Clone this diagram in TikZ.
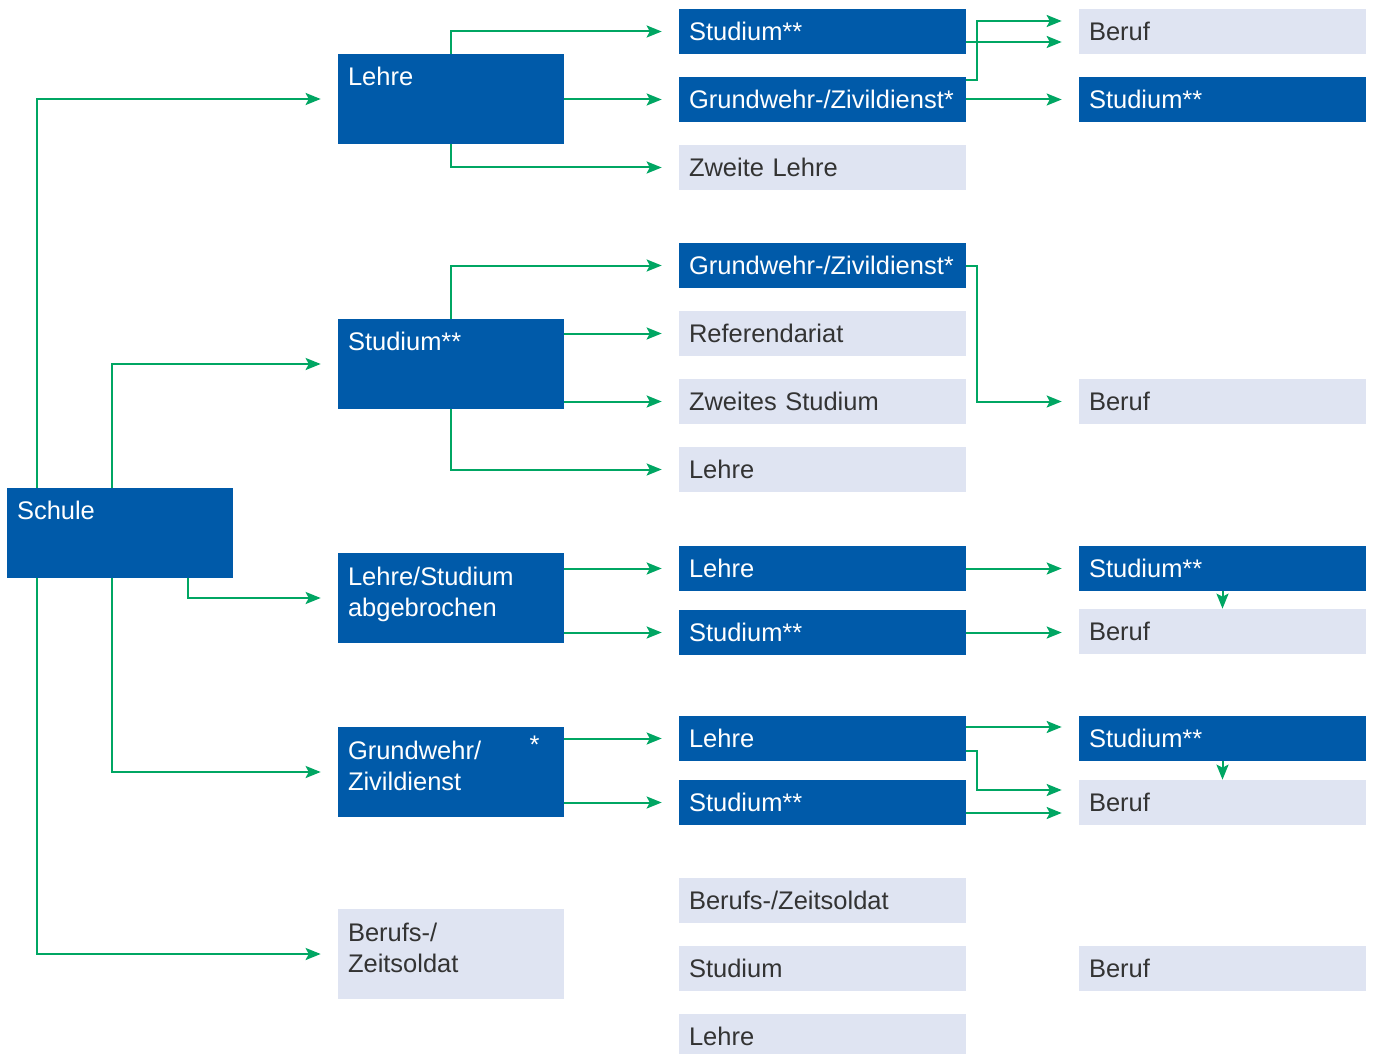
\documentclass[tikz,border=0pt]{standalone}
\usepackage{fontspec}
\setmainfont{Liberation Sans}
\usepackage{tikz}
\usetikzlibrary{arrows.meta,calc}
\definecolor{dblue}{RGB}{0,90,169}
\definecolor{lblue}{RGB}{223,228,242}
\definecolor{lgreen}{RGB}{0,166,99}
\definecolor{dgray}{RGB}{51,51,51}
\begin{document}
\begin{tikzpicture}[x=0.02cm,y=-0.02cm]
\tikzstyle{box}=[rectangle,inner xsep=0.2cm,inner ysep=0pt,align=left,
  minimum width=5.74cm,minimum height=0.9cm,text width=5.34cm,
  font=\fontsize{14.5}{18}\selectfont]
\tikzstyle{dbox}=[box,fill=dblue,text=white]
\tikzstyle{lbox}=[box,fill=lblue,text=dgray]
\tikzstyle{big}=[minimum width=4.52cm,minimum height=1.8cm,text width=4.12cm]
\tikzstyle{txt}=[inner sep=0pt,align=left,font=\fontsize{14.5}{18}\selectfont]
\tikzstyle{arr}=[draw=lgreen,line width=0.04cm,
  -{Stealth[length=0.3cm,width=0.24cm,inset=0.06cm]},shorten >=0.34cm]
\tikzstyle{varr}=[arr,shorten >=0pt]
\useasboundingbox (0,0) rectangle (1375,1054);
% first column
\node[dbox,big] (schule) at (120,533) {};
\node[txt,text=white,anchor=base west] (schule-t) at ($(schule.north west)+(10,32)$) {Schule};
% second column
\node[dbox,big] (lehre) at (451,99) {};
\node[txt,text=white,anchor=base west] (lehre-t) at ($(lehre.north west)+(10,32)$) {Lehre};
\node[dbox,big] (stud) at (451,364) {};
\node[txt,text=white,anchor=base west] (stud-t) at ($(stud.north west)+(10,32)$) {Studium**};
\node[dbox,big] (abgeb) at (451,598) {};
\node[txt,text=white,anchor=base west] (abgeb-t) at ($(abgeb.north west)+(10,64)$) {Lehre/Studium\\abgebrochen};
\node[dbox,big] (gw) at (451,772) {};
\node[txt,text=white,anchor=base west] (gw-t) at ($(gw.north west)+(10,64)$) {Grundwehr/\\Zivildienst};
\node[txt,text=white,anchor=base] (gw-s) at ($(gw.north west)+(197,27)$) {*};
\node[lbox,big] (bzs) at (451,954) {};
\node[txt,text=dgray,anchor=base west] (bzs-t) at ($(bzs.north west)+(10,64)$) {Berufs-/\\Zeitsoldat};
% third column
\node[dbox] (c3stud1) at (822.5,31.5) {Studium**};
\node[dbox] (c3gw1) at (822.5,99.5) {Grundwehr-/Zivildienst*};
\node[lbox] (c3zl) at (822.5,167.5) {Zweite Lehre};
\node[dbox] (c3gw2) at (822.5,265.5) {Grundwehr-/Zivildienst*};
\node[lbox] (c3ref) at (822.5,333.5) {Referendariat};
\node[lbox] (c3zs) at (822.5,401.5) {Zweites Studium};
\node[lbox] (c3lehre1) at (822.5,469.5) {Lehre};
\node[dbox] (c3lehre2) at (822.5,568.5) {Lehre};
\node[dbox] (c3stud2) at (822.5,632.5) {Studium**};
\node[dbox] (c3lehre3) at (822.5,738.5) {Lehre};
\node[dbox] (c3stud3) at (822.5,802.5) {Studium**};
\node[lbox] (c3bzs) at (822.5,900.5) {Berufs-/Zeitsoldat};
\node[lbox] (c3stud4) at (822.5,968.5) {Studium};
\node[lbox] (c3lehre4) at (822.5,1036.5) {Lehre};
% fourth column
\node[lbox] (c4beruf1) at (1222.5,31.5) {Beruf};
\node[dbox] (c4stud1) at (1222.5,99.5) {Studium**};
\node[lbox] (c4beruf2) at (1222.5,401.5) {Beruf};
\node[dbox] (c4stud2) at (1222.5,568.5) {Studium**};
\node[lbox] (c4beruf3) at (1222.5,631.5) {Beruf};
\node[dbox] (c4stud3) at (1222.5,738.5) {Studium**};
\node[lbox] (c4beruf4) at (1222.5,802.5) {Beruf};
\node[lbox] (c4beruf5) at (1222.5,968.5) {Beruf};
% Schule
\draw[arr] ($(schule.north west)+(30,0)$) |- (lehre.west);
\draw[arr] ($(schule.north west)+(105,0)$) |- (stud.west);
\draw[arr] ($(schule.south west)+(181,0)$) |- (abgeb.west);
\draw[arr] ($(schule.south west)+(105,0)$) |- (gw.west);
\draw[arr] ($(schule.south west)+(30,0)$) |- (bzs.west);
% second to third
\draw[arr] (lehre.north) |- (c3stud1.west);
\draw[arr] (lehre.east |- c3gw1.west) -- (c3gw1.west);
\draw[arr] (lehre.south) |- (c3zl.west);
\draw[arr] (stud.north) |- (c3gw2.west);
\draw[arr] (stud.east |- c3ref.west) -- (c3ref.west);
\draw[arr] (stud.east |- c3zs.west) -- (c3zs.west);
\draw[arr] (stud.south) |- (c3lehre1.west);
\draw[arr] (abgeb.east |- c3lehre2.west) -- (c3lehre2.west);
\draw[arr] (abgeb.east |- c3stud2.west) -- (c3stud2.west);
\draw[arr] (gw.east |- c3lehre3.west) -- (c3lehre3.west);
\draw[arr] (gw.east |- c3stud3.west) -- (c3stud3.west);
% third to fourth
\draw[arr] ($(c3stud1.east)+(0,10.5)$) -- ($(c4beruf1.west)+(0,10.5)$);
\draw[arr] ($(c3gw1.north east)+(0,3)$) -- ++(11,0) |- ($(c4beruf1.west)+(0,-10.5)$);
\draw[arr] (c3gw1.east) -- (c4stud1.west);
\draw[arr] (c3gw2.east) -- ++(11,0) |- (c4beruf2.west);
\draw[arr] (c3lehre2.east) -- (c4stud2.west);
\draw[arr] (c3stud2.east) -- (c3stud2.east -| c4beruf3.west);
\draw[varr] (c4stud2.south) -- (c4beruf3.north);
\draw[arr] ($(c3lehre3.east)+(0,-11.5)$) -- ($(c4stud3.west)+(0,-11.5)$);
\draw[arr] ($(c3lehre3.east)+(0,12.5)$) -- ++(11,0) |- ($(c4beruf4.west)+(0,-12.5)$);
\draw[arr] ($(c3stud3.east)+(0,10.5)$) -- ($(c4beruf4.west)+(0,10.5)$);
\draw[varr] (c4stud3.south) -- (c4beruf4.north);
\end{tikzpicture}
\end{document}
